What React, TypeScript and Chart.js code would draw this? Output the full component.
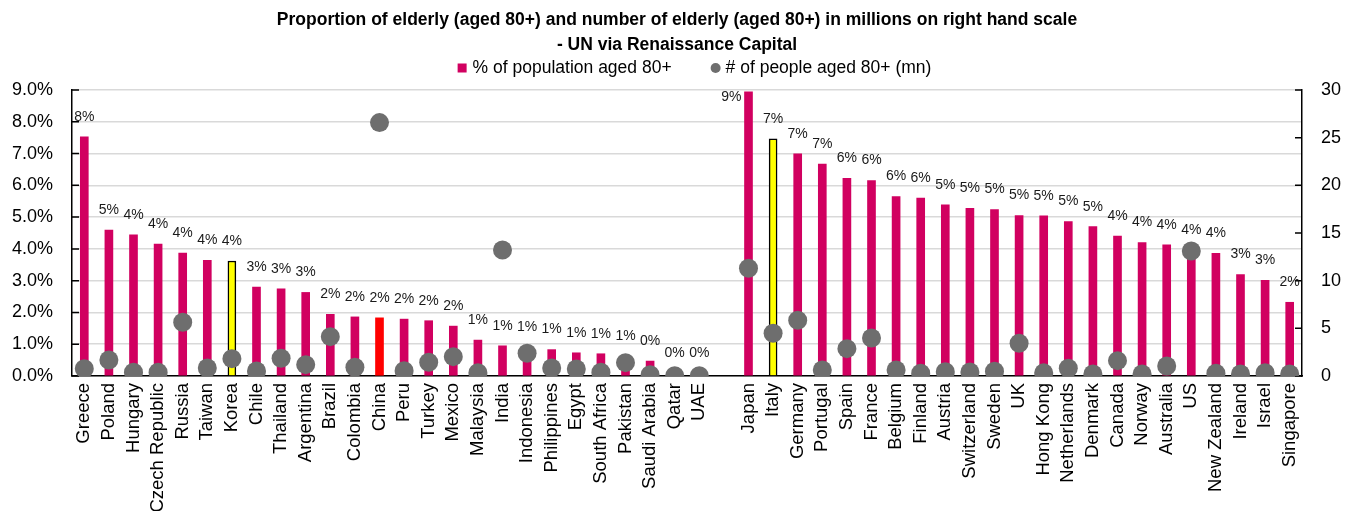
import { useEffect, useRef } from 'react';
import { Chart, registerables } from 'chart.js';

Chart.register(...registerables);

// Emerging markets, an empty slot as separator, then developed markets
const countries = [
  'Greece', 'Poland', 'Hungary', 'Czech Republic', 'Russia', 'Taiwan', 'Korea', 'Chile',
  'Thailand', 'Argentina', 'Brazil', 'Colombia', 'China', 'Peru', 'Turkey', 'Mexico',
  'Malaysia', 'India', 'Indonesia', 'Philippines', 'Egypt', 'South Africa', 'Pakistan',
  'Saudi Arabia', 'Qatar', 'UAE',
  '',
  'Japan', 'Italy', 'Germany', 'Portugal', 'Spain', 'France', 'Belgium', 'Finland', 'Austria',
  'Switzerland', 'Sweden', 'UK', 'Hong Kong', 'Netherlands', 'Denmark', 'Canada', 'Norway',
  'Australia', 'US', 'New Zealand', 'Ireland', 'Israel', 'Singapore',
];

// % of population aged 80+ (left axis)
const pctAged80: (number | null)[] = [
  7.53, 4.59, 4.44, 4.15, 3.87, 3.64, 3.62, 2.80,
  2.74, 2.63, 1.94, 1.86, 1.83, 1.79, 1.74, 1.57,
  1.13, 0.95, 0.92, 0.83, 0.73, 0.70, 0.63,
  0.47, 0.08, 0.09,
  null,
  8.94, 7.46, 6.99, 6.67, 6.22, 6.15, 5.65, 5.60, 5.39,
  5.28, 5.24, 5.05, 5.04, 4.86, 4.70, 4.40, 4.20,
  4.13, 3.96, 3.86, 3.19, 3.01, 2.32,
];

// Number of people aged 80+, millions (right axis)
const mnAged80: (number | null)[] = [
  0.77, 1.68, 0.39, 0.39, 5.63, 0.84, 1.82, 0.52,
  1.86, 1.19, 4.13, 0.91, 26.58, 0.56, 1.44, 2.03,
  0.35, 13.22, 2.38, 0.84, 0.73, 0.39, 1.40,
  0.14, 0.02, 0.02,
  null,
  11.30, 4.48, 5.84, 0.63, 2.87, 3.99, 0.63, 0.28, 0.45,
  0.42, 0.49, 3.43, 0.33, 0.81, 0.21, 1.61, 0.21,
  1.05, 13.12, 0.28, 0.21, 0.35, 0.21,
];

const yellowHighlight = ['Korea', 'Italy'];
const redHighlight = ['China'];

const titleLines = [
  'Proportion of elderly (aged 80+) and number of elderly (aged 80+) in millions on right hand scale',
  '- UN via Renaissance Capital',
];
const barLegend = '% of population aged 80+';
const dotLegend = '# of people aged 80+ (mn)';

const FONT = "'Liberation Sans', Arial, Helvetica, sans-serif";
const PINK = '#D10060';
const YELLOW = '#FFFF00';
const RED = '#FF0000';
const GREY = '#6E6E6E';

const barColors = countries.map((c) =>
  yellowHighlight.includes(c) ? YELLOW : redHighlight.includes(c) ? RED : PINK
);
const barBorders = countries.map((c) => (yellowHighlight.includes(c) ? '#000000' : 'rgba(0,0,0,0)'));
const barBorderWidths = countries.map((c) => (yellowHighlight.includes(c) ? 1.5 : 0));

// Rounded percentage written above each bar
const valueLabels = {
  id: 'valueLabels',
  afterDatasetsDraw(chart: any) {
    const meta = chart.getDatasetMeta(1);
    const { ctx, chartArea } = chart;
    ctx.save();
    ctx.font = `14px ${FONT}`;
    ctx.fillStyle = '#1a1a1a';
    ctx.textBaseline = 'middle';
    meta.data.forEach((el: any, i: number) => {
      const v = pctAged80[i];
      if (v == null) return;
      const txt = `${Math.round(v)}%`;
      const y = el.y - 20;
      if (y < chartArea.top + 6) {
        ctx.textAlign = 'right';
        ctx.fillText(txt, el.x - el.width / 2 - 3, chartArea.top + 7);
      } else {
        ctx.textAlign = 'center';
        ctx.fillText(txt, el.x, y);
      }
    });
    ctx.restore();
  },
};

// Short tick marks pointing into the plot on both value axes
const inwardTicks = {
  id: 'inwardTicks',
  beforeDatasetsDraw(chart: any) {
    const { ctx } = chart;
    const y = chart.scales.y;
    const y1 = chart.scales.y1;
    ctx.save();
    ctx.strokeStyle = '#000';
    ctx.lineWidth = 1.5;
    ctx.beginPath();
    y.ticks.forEach((_t: any, i: number) => {
      const py = y.getPixelForTick(i);
      ctx.moveTo(y.right, py);
      ctx.lineTo(y.right + 7, py);
    });
    y1.ticks.forEach((_t: any, i: number) => {
      const py = y1.getPixelForTick(i);
      ctx.moveTo(y1.left - 7, py);
      ctx.lineTo(y1.left, py);
    });
    ctx.stroke();
    ctx.restore();
  },
};

// Legend row under the title: square for bars, circle for dots
const legendRow = {
  id: 'legendRow',
  afterDraw(chart: any) {
    const { ctx } = chart;
    ctx.save();
    ctx.font = `17.5px ${FONT}`;
    ctx.textBaseline = 'middle';
    ctx.textAlign = 'left';
    const w1 = ctx.measureText(barLegend).width;
    const w2 = ctx.measureText(dotLegend).width;
    const total = 9 + 6 + w1 + 39 + 10 + 5 + w2;
    const cy = 68;
    let x = chart.width / 2 + 17.5 - total / 2;
    ctx.fillStyle = PINK;
    ctx.fillRect(x, cy - 4.5, 9, 9);
    x += 15;
    ctx.fillStyle = '#000';
    ctx.fillText(barLegend, x, cy);
    x += w1 + 39;
    ctx.fillStyle = GREY;
    ctx.beginPath();
    ctx.arc(x + 5, cy, 5, 0, Math.PI * 2);
    ctx.fill();
    x += 15;
    ctx.fillStyle = '#000';
    ctx.fillText(dotLegend, x, cy);
    ctx.restore();
  },
};

export default function App() {
  const canvasRef = useRef<HTMLCanvasElement | null>(null);

  useEffect(() => {
    if (!canvasRef.current) return;
    const chart = new Chart(canvasRef.current, {
      type: 'bar',
      data: {
        labels: countries,
        datasets: [
          {
            type: 'line',
            label: dotLegend,
            data: mnAged80,
            yAxisID: 'y1',
            showLine: false,
            pointRadius: 9.5,
            pointBackgroundColor: GREY,
            pointBorderWidth: 0,
            pointBorderColor: GREY,
            order: 0,
          } as any,
          {
            type: 'bar',
            label: barLegend,
            data: pctAged80,
            yAxisID: 'y',
            backgroundColor: barColors,
            borderColor: barBorders,
            borderWidth: barBorderWidths,
            barThickness: 8,
            order: 1,
          } as any,
        ],
      },
      options: {
        animation: false,
        responsive: true,
        maintainAspectRatio: false,
        events: [],
        layout: { padding: 0 },
        plugins: {
          legend: { display: false },
          tooltip: { enabled: false },
          title: {
            display: true,
            text: titleLines,
            color: '#000',
            font: { family: FONT, size: 17.5, weight: 'bold', lineHeight: '25px' } as any,
            padding: { top: 8, bottom: 32 },
          },
        },
        scales: {
          x: {
            type: 'category',
            grid: { display: false, drawTicks: false },
            border: { display: true, color: '#000', width: 1.5 },
            ticks: {
              autoSkip: false,
              minRotation: 90,
              maxRotation: 90,
              padding: 7,
              color: '#000',
              font: { family: FONT, size: 18.5 },
            },
            afterFit: (s: any) => {
              s.height = 135;
            },
          },
          y: {
            position: 'left',
            min: 0,
            max: 9,
            grid: { color: '#d9d9d9', lineWidth: 1.5, drawTicks: false },
            border: { display: true, color: '#000', width: 1.5 },
            ticks: {
              stepSize: 1,
              padding: 19,
              color: '#000',
              font: { family: FONT, size: 18 },
              callback: (v: any) => `${Number(v).toFixed(1)}%`,
            },
            afterFit: (s: any) => {
              s.width = 72;
            },
          },
          y1: {
            position: 'right',
            min: 0,
            max: 30,
            grid: { drawOnChartArea: false, drawTicks: false },
            border: { display: true, color: '#000', width: 1.5 },
            ticks: {
              stepSize: 5,
              padding: 19,
              color: '#000',
              font: { family: FONT, size: 18 },
            },
            afterFit: (s: any) => {
              s.width = 52;
            },
          },
        },
      },
      plugins: [inwardTicks, valueLabels, legendRow],
    });
    return () => chart.destroy();
  }, []);

  return (
    <div style={{ position: 'fixed', left: 0, top: 0, width: 1354, height: 511, background: '#fff' }}>
      <canvas ref={canvasRef} />
    </div>
  );
}
